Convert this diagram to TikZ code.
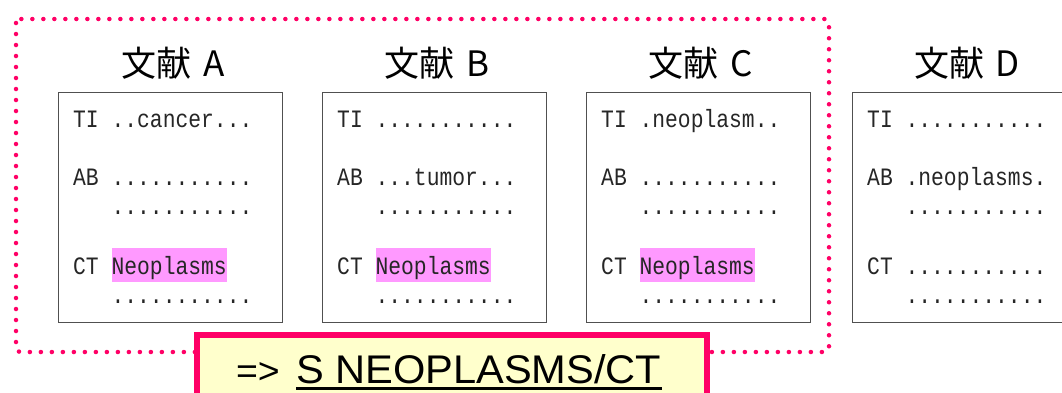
\documentclass[tikz,border=0pt]{standalone}
\usepackage{fontspec}
\setmainfont{Liberation Sans}
\newfontfamily\jp{Noto Sans CJK JP}
\newfontfamily\gothic[FakeStretch=0.853]{Liberation Mono}
\newfontfamily\qfont[FakeStretch=1.04]{Liberation Sans}
\definecolor{dotpink}{RGB}{255,0,102}
\definecolor{hl}{RGB}{255,153,255}
\definecolor{paleyellow}{RGB}{255,255,204}
\definecolor{boxgray}{RGB}{80,80,80}
\tikzset{
  doc/.style={draw=boxgray, line width=1.4pt, fill=white, minimum width=224pt, minimum height=230pt, inner sep=0pt, anchor=north west},
  lbl/.style={font=\gothic\fontsize{25}{25}\selectfont, text=black!85, anchor=base west, inner sep=0pt},
  hlbox/.style={lbl, fill=hl, text height=26pt, text depth=8pt},
  plain/.style={lbl},
  doctitle/.style={font=\jp\fontsize{35}{35}\selectfont, anchor=base, inner sep=0pt},
  frame/.style={dotpink, line width=4.5pt, line cap=round, dash pattern=on 0pt off 11pt, rounded corners=4pt},
  query/.style={draw=dotpink, line width=6pt, fill=paleyellow, anchor=north west, minimum width=510pt, minimum height=90pt, inner sep=0pt},
}
% #1 name, #2 left x, #3 letter, #4 TI text, #5 AB text, #6 CT text, #7 CT style
\newcommand\docbox[7]{%
  \node[doc] (#1) at (#2,92) {};
  \node[doctitle] (#1title) at ({#2+115},76) {文献\hspace{4pt} #3};
  \node[lbl] (#1ti) at ({#2+15},127) {TI};
  \node[lbl] (#1tiv) at ({#2+53.4},127) {#4};
  \node[lbl] (#1ab) at ({#2+15},185) {AB};
  \node[lbl] (#1abv) at ({#2+53.4},185) {#5};
  \node[lbl] (#1abw) at ({#2+53.4},214) {...........};
  \node[lbl] (#1ct) at ({#2+15},274) {CT};
  \node[#7] (#1ctv) at ({#2+53.4},274) {#6};
  \node[lbl] (#1ctw) at ({#2+53.4},303) {...........};
}
\begin{document}
\begin{tikzpicture}[x=1pt,y=-1pt]
  \useasboundingbox (0,0) rectangle (1062,392);
  \fill[white] (0,0) rectangle (1062,392);
  \clip (0,0) rectangle (1062,392);
  \draw[frame] (16,19) rectangle (829,352);
  \docbox{a}{58}{A}{..cancer...}{...........}{Neoplasms}{hlbox}
  \docbox{b}{322}{B}{...........}{...tumor...}{Neoplasms}{hlbox}
  \docbox{c}{586}{C}{.neoplasm..}{...........}{Neoplasms}{hlbox}
  \docbox{d}{852}{D}{...........}{.neoplasms.}{...........}{plain}
  \node[query] (qbox) at (194,332) {};
  \node[font=\qfont\fontsize{40}{40}\selectfont, anchor=base west, inner sep=0pt] (qtext) at (296,383) {S NEOPLASMS/CT};
  \node[font=\qfont\fontsize{36}{36}\selectfont, anchor=base east, inner sep=0pt] (qarrow) at (280,383) {=>};
  \draw[line width=3pt] ([yshift=-5.5pt]qtext.base west) -- ([yshift=-5.5pt]qtext.base east);
\end{tikzpicture}
\end{document}
